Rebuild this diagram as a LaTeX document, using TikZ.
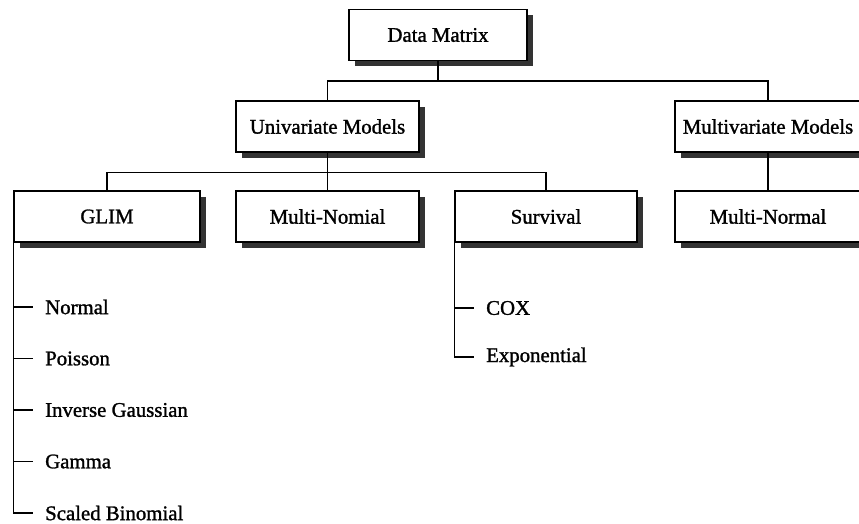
\documentclass[tikz,border=0pt]{standalone}
\usepackage{fontspec}
\setmainfont[FakeBold=1.3]{Liberation Serif}
\usetikzlibrary{shadows}
\begin{document}
\begin{tikzpicture}[x=1pt,y=-1pt,
  every node/.style={font=\fontsize{20.8}{24}\selectfont},
  box/.style={draw=black, line width=1.4pt, fill=white, inner sep=0pt,
    minimum height=51pt,
    drop shadow={shadow xshift=6pt, shadow yshift=-6pt, opacity=1, fill=black!80}},
  wire/.style={line width=1.4pt},
  leaf/.style={anchor=west, inner sep=0pt}]
\useasboundingbox (0,0) rectangle (859,524);
\clip (0,0) rectangle (859,524);

% boxes of the tree
\node[box, minimum width=178pt] (dm)    at (438,35)    {Data Matrix};
\node[box, minimum width=183pt] (uni)   at (327.5,126.5) {Univariate Models};
\node[box, minimum width=186pt] (mv)    at (768,126.5) {Multivariate Models};
\node[box, minimum width=186pt] (glim)  at (107,216.5) {GLIM};
\node[box, minimum width=183pt] (mnom)  at (327.5,216.5) {Multi-Nomial};
\node[box, minimum width=182pt] (surv)  at (546,216.5) {Survival};
\node[box, minimum width=186pt] (mnorm) at (768,216.5) {Multi-Normal};

% level connectors
\draw[wire] (dm.south) -- ++(0,20) -| (uni.north);
\draw[wire] (dm.south) -- ++(0,20) -| (mv.north);
\draw[wire] (uni.south) -- ++(0,20) -| (glim.north);
\draw[wire] (uni.south) -- ++(0,20) -| (mnom.north);
\draw[wire] (uni.south) -- ++(0,20) -| (surv.north);
\draw[wire] (mv.south) -- (mnorm.north);

% GLIM families
\node[leaf] (nor) at (45,307) {Normal};
\node[leaf] (poi) at (45,358.5) {Poisson};
\node[leaf] (ig)  at (45,410) {Inverse Gaussian};
\node[leaf] (gam) at (45,461.5) {Gamma};
\node[leaf] (sb)  at (45,513) {Scaled Binomial};
\foreach \n in {nor,poi,ig,gam,sb}
  \draw[wire] (glim.south west) |- ([xshift=-12pt]\n.west);

% survival models
\node[leaf] (cox) at (486,308) {COX};
\node[leaf] (expo) at (486,357) {Exponential};
\foreach \n in {cox,expo}
  \draw[wire] (surv.south west) |- ([xshift=-12pt]\n.west);
\end{tikzpicture}
\end{document}
